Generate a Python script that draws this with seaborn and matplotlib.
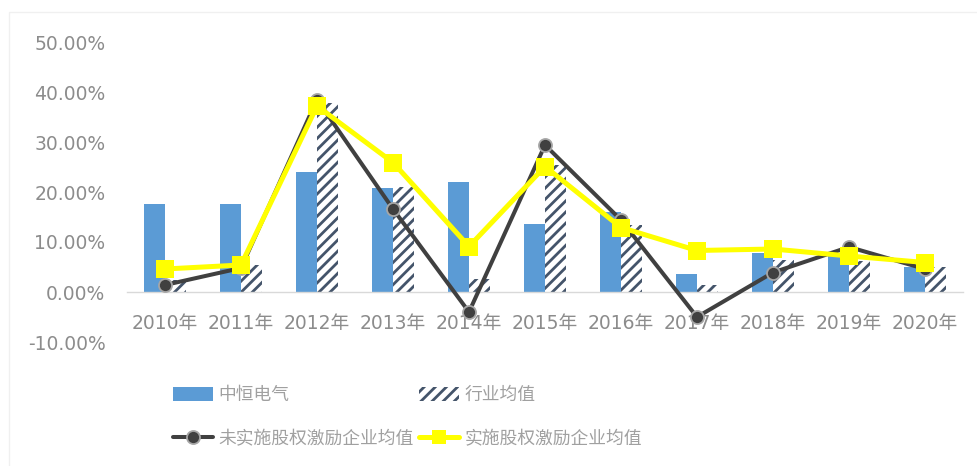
import numpy as np
import pandas as pd
import matplotlib
matplotlib.use("Agg")
import matplotlib.pyplot as plt
import seaborn as sns
from matplotlib.patches import Rectangle, Patch
from matplotlib.lines import Line2D
from matplotlib.ticker import FuncFormatter

# ---------------- data ----------------
years = ["2010年", "2011年", "2012年", "2013年", "2014年", "2015年",
         "2016年", "2017年", "2018年", "2019年", "2020年"]
zhongheng = [17.6, 17.6, 24.1, 20.9, 22.1, 13.6, 16.1, 3.6, 7.8, 7.5, 5.0]
industry = [2.5, 5.4, 37.9, 21.1, 2.6, 25.4, 13.4, 1.4, 6.4, 6.3, 5.0]
no_incentive = [1.4, 4.8, 38.5, 16.6, -4.0, 29.4, 14.4, -5.0, 3.9, 9.0, 4.6]
with_incentive = [4.6, 5.4, 37.2, 25.9, 9.1, 25.1, 12.9, 8.3, 8.6, 7.2, 5.9]
series_names = ["中恒电气", "行业均值", "未实施股权激励企业均值", "实施股权激励企业均值"]
yticks = [-10, 0, 10, 20, 30, 40, 50]

# ---------------- style ----------------
DPI = 100
sns.set_style("white")
plt.rcParams["font.family"] = ["DejaVu Sans", "Noto Sans CJK SC"]
plt.rcParams["hatch.linewidth"] = 2.0
BLUE = "#5B9BD5"
NAVY = "#44546A"
DARK = "#404040"
YELLOW = "#FFFF00"
TICK_C = "#8C8C8C"
LEG_C = "#A0A0A0"

W, H = 977, 466
fig = plt.figure(figsize=(W / DPI, H / DPI), dpi=DPI)
ax = fig.add_axes([127 / W, 1 - 342 / H, 836 / W, 300 / H])

# bars
bars_df = pd.DataFrame({
    "year": years * 2,
    "value": zhongheng + industry,
    "series": [series_names[0]] * len(years) + [series_names[1]] * len(years),
})
sns.barplot(data=bars_df, x="year", y="value", hue="series", order=years,
            hue_order=series_names[:2], palette=[BLUE, "white"], width=0.54,
            dodge=True, legend=False, ax=ax, saturation=1, linewidth=0,
            errorbar=None)
for p in ax.containers[1]:
    p.set_hatch("///")
    p.set_edgecolor(NAVY)
    p.set_linewidth(0)

# lines
pos = np.arange(len(years))
sns.lineplot(x=pos, y=no_incentive, ax=ax, color=DARK, linewidth=2.9,
             marker="o", markersize=9.4, markerfacecolor=DARK,
             markeredgecolor="#A6A6A6", markeredgewidth=1.3, zorder=4)
sns.lineplot(x=pos, y=with_incentive, ax=ax, color=YELLOW, linewidth=3.6,
             marker="s", markersize=12.3, markerfacecolor=YELLOW,
             markeredgecolor=YELLOW, markeredgewidth=0, zorder=5)

# axes
ax.set_xlim(-0.5, len(years) - 0.5)
ax.set_ylim(-10, 50)
ax.set_yticks(yticks)
ax.yaxis.set_major_formatter(FuncFormatter(lambda v, _: f"{v:.2f}%"))
ax.set_xlabel("")
ax.set_ylabel("")
ax.set_xticks(pos)
ax.set_xticklabels(years)
for s in ["top", "right", "left"]:
    ax.spines[s].set_visible(False)
ax.spines["bottom"].set_position(("data", 0))
ax.spines["bottom"].set_color("#D9D9D9")
ax.spines["bottom"].set_linewidth(1.0)
ax.tick_params(axis="both", length=0, labelsize=13.5, labelcolor=TICK_C)
ax.tick_params(axis="y", pad=15.5)
ax.tick_params(axis="x", pad=16)
ax.grid(False)

# legend (proxy handles)
h_blue = Patch(facecolor=BLUE, edgecolor="none")
h_hatch = Patch(facecolor="white", edgecolor=NAVY, hatch="///", linewidth=0)
h_black = Line2D([], [], color=DARK, linewidth=2.9, marker="o", markersize=9.4,
                 markerfacecolor=DARK, markeredgecolor="#A6A6A6", markeredgewidth=1.3)
h_yellow = Line2D([], [], color=YELLOW, linewidth=3.6, marker="s", markersize=9.5,
                  markerfacecolor=YELLOW, markeredgewidth=0)
leg = fig.legend([h_blue, h_black, h_hatch, h_yellow],
                 [series_names[0], series_names[2], series_names[1], series_names[3]],
                 ncol=2, loc="upper left", bbox_to_anchor=(173 / W, 1 - 386 / H),
                 frameon=False, fontsize=12.8, borderpad=0, borderaxespad=0,
                 handlelength=2.25, handleheight=0.84, handletextpad=0.3,
                 columnspacing=0.3, labelspacing=1.45)
for t in leg.get_texts():
    t.set_color(LEG_C)

# faint chart-area border
fig.add_artist(Rectangle((9 / W, -0.01), 1.1, 1 - 12 / H + 0.01,
                         transform=fig.transFigure, fill=False,
                         edgecolor="#F0F0F0", linewidth=1.0))

fig.savefig("out.png", dpi=DPI)
